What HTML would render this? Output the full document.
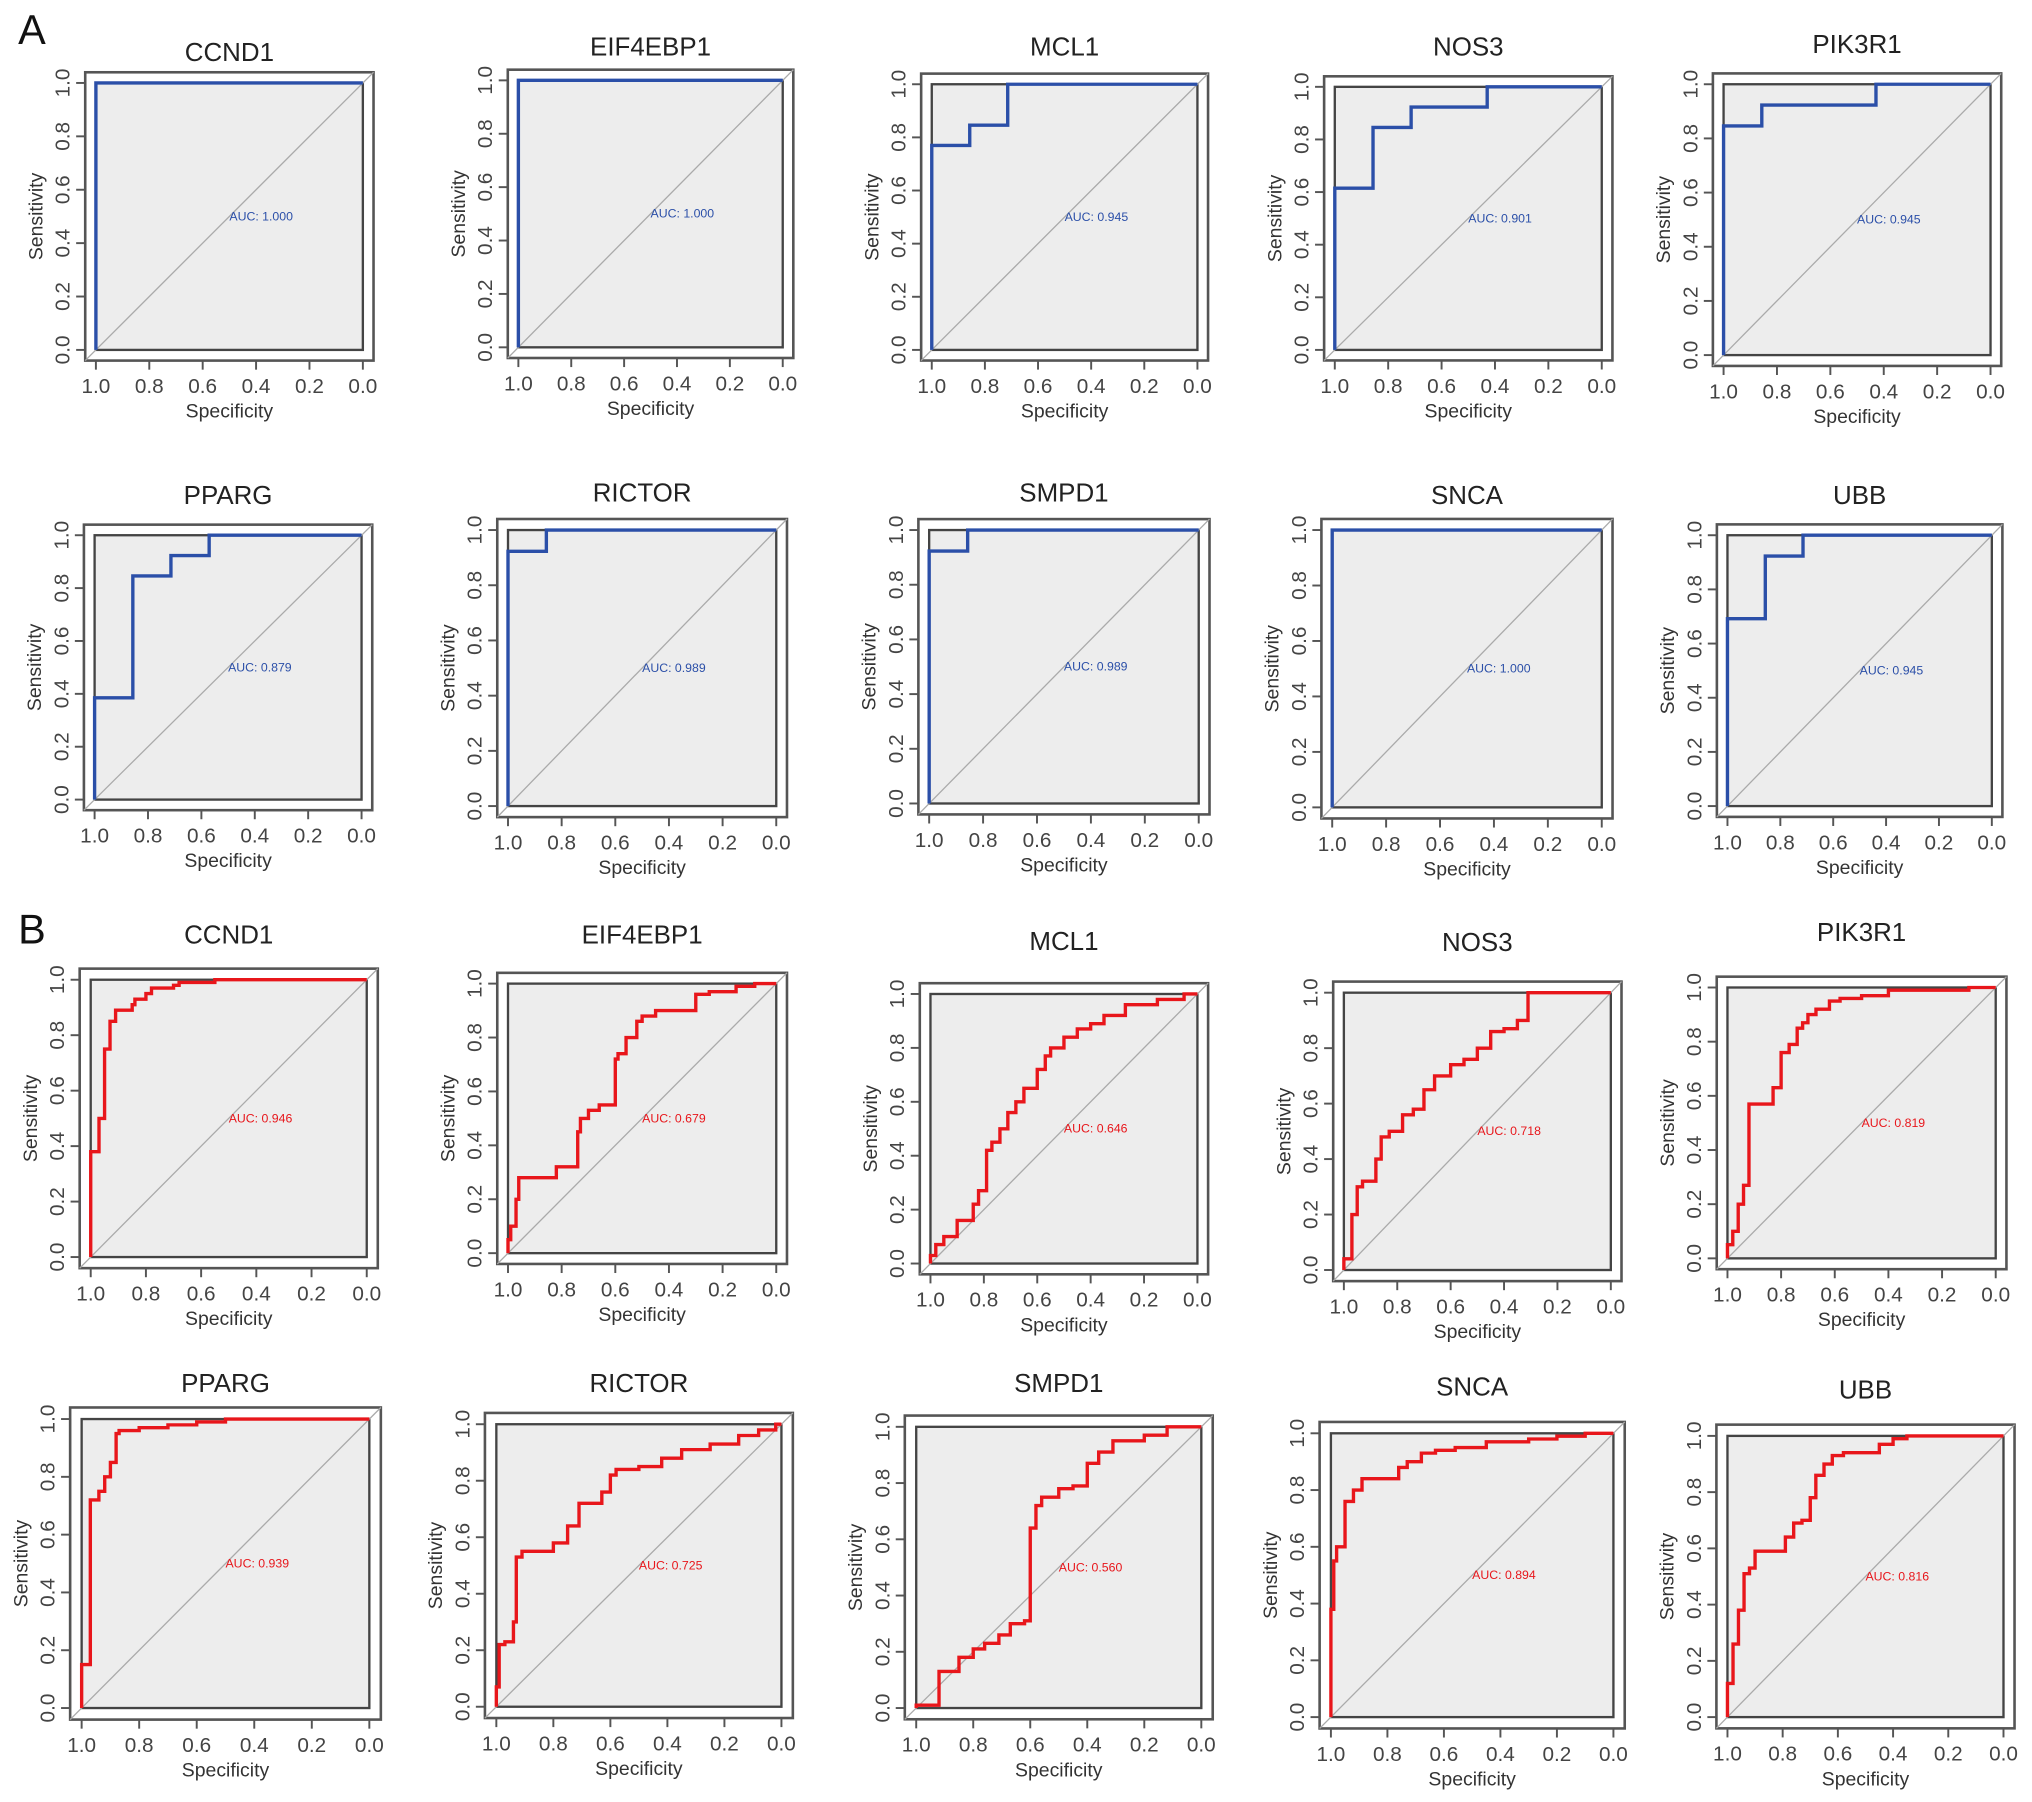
<!DOCTYPE html>
<html><head><meta charset="utf-8"><style>
html,body{margin:0;padding:0;background:#fff;}
svg{display:block;}
text{font-family:"Liberation Sans",Arial,sans-serif;}
</style></head><body>
<svg id="fig" width="2032" height="1802" viewBox="0 0 1568 1390.5" xmlns="http://www.w3.org/2000/svg">
<text x="14" y="34" font-size="32" fill="#111">A</text>
<text x="14" y="728" font-size="32" fill="#111">B</text>
</svg>
<script>
const genes = ["CCND1","EIF4EBP1","MCL1","NOS3","PIK3R1","PPARG","RICTOR","SMPD1","SNCA","UBB"];
const aucA = ["1.000","1.000","0.945","0.901","0.945","0.879","0.989","0.989","1.000","0.945"];
const aucB = ["0.946","0.679","0.646","0.718","0.819","0.939","0.725","0.560","0.894","0.816"];
const tickLabels = ["1.0","0.8","0.6","0.4","0.2","0.0"];
const tickValues = [1.0,0.8,0.6,0.4,0.2,0.0];

// Set A (blue) curves: specificity / sensitivity
const specA_CCND1=[1,1,0], sensA_CCND1=[0,1,1];
const specA_EIF4EBP1=[1,1,0], sensA_EIF4EBP1=[0,1,1];
const specA_MCL1=[1,1,0.857,0.857,0.714,0.714,0], sensA_MCL1=[0,0.77,0.77,0.846,0.846,1,1];
const specA_NOS3=[1,1,0.857,0.857,0.714,0.714,0.429,0.429,0], sensA_NOS3=[0,0.615,0.615,0.846,0.846,0.923,0.923,1,1];
const specA_PIK3R1=[1,1,0.857,0.857,0.429,0.429,0], sensA_PIK3R1=[0,0.846,0.846,0.923,0.923,1,1];
const specA_PPARG=[1,1,0.857,0.857,0.714,0.714,0.571,0.571,0], sensA_PPARG=[0,0.385,0.385,0.846,0.846,0.923,0.923,1,1];
const specA_RICTOR=[1,1,0.857,0.857,0], sensA_RICTOR=[0,0.923,0.923,1,1];
const specA_SMPD1=[1,1,0.857,0.857,0], sensA_SMPD1=[0,0.923,0.923,1,1];
const specA_SNCA=[1,1,0], sensA_SNCA=[0,1,1];
const specA_UBB=[1,1,0.857,0.857,0.714,0.714,0], sensA_UBB=[0,0.692,0.692,0.923,0.923,1,1];

// Set B (red) curves
const specB_CCND1=[1,0.99,0.97,0.97,0.95,0.95,0.93,0.93,0.91,0.9,0.85,0.84,0.8,0.78,0.76,0.7,0.68,0.63,0.55,0.52,0];
const sensB_CCND1=[0,0.38,0.38,0.5,0.5,0.75,0.75,0.85,0.85,0.89,0.89,0.91,0.93,0.95,0.97,0.97,0.98,0.99,0.99,1,1];
const specB_EIF4EBP1=[1,0.99,0.97,0.96,0.93,0.82,0.8,0.74,0.73,0.7,0.66,0.6,0.59,0.56,0.52,0.5,0.45,0.3,0.25,0.15,0.08,0.02,0];
const sensB_EIF4EBP1=[0,0.05,0.1,0.2,0.28,0.28,0.32,0.32,0.45,0.5,0.53,0.55,0.72,0.74,0.8,0.86,0.88,0.9,0.96,0.97,0.99,1,1];
const specB_MCL1=[1,0.98,0.95,0.9,0.88,0.84,0.82,0.79,0.77,0.74,0.71,0.68,0.65,0.6,0.57,0.55,0.5,0.45,0.4,0.35,0.27,0.15,0.05,0];
const sensB_MCL1=[0,0.03,0.07,0.1,0.16,0.16,0.22,0.27,0.42,0.45,0.5,0.56,0.6,0.65,0.72,0.77,0.8,0.84,0.87,0.89,0.92,0.96,0.98,1];
const specB_NOS3=[1,0.97,0.95,0.93,0.88,0.86,0.83,0.78,0.74,0.7,0.66,0.6,0.55,0.5,0.45,0.4,0.35,0.31,0.31,0.25,0];
const sensB_NOS3=[0,0.04,0.2,0.3,0.32,0.4,0.48,0.5,0.56,0.58,0.65,0.7,0.74,0.76,0.8,0.86,0.87,0.9,0.98,1,1];
const specB_PIK3R1=[1,0.98,0.96,0.94,0.92,0.9,0.83,0.8,0.77,0.74,0.72,0.7,0.67,0.62,0.58,0.5,0.4,0.35,0.1,0.05,0];
const sensB_PIK3R1=[0,0.05,0.1,0.2,0.27,0.57,0.57,0.63,0.76,0.79,0.85,0.87,0.9,0.92,0.95,0.96,0.97,0.99,0.99,1,1];
const specB_PPARG=[1,0.99,0.97,0.97,0.94,0.92,0.9,0.88,0.87,0.8,0.7,0.6,0.5,0.4,0];
const sensB_PPARG=[0,0.15,0.15,0.7,0.72,0.75,0.8,0.85,0.95,0.96,0.97,0.98,0.99,1,1];
const specB_RICTOR=[1,0.99,0.97,0.94,0.93,0.91,0.88,0.8,0.75,0.71,0.69,0.63,0.6,0.58,0.5,0.42,0.35,0.25,0.15,0.08,0.02,0];
const sensB_RICTOR=[0,0.07,0.22,0.23,0.3,0.53,0.55,0.55,0.58,0.64,0.72,0.72,0.76,0.82,0.84,0.85,0.88,0.91,0.93,0.96,0.98,1];
const specB_SMPD1=[1,0.92,0.92,0.85,0.8,0.76,0.71,0.67,0.62,0.6,0.6,0.58,0.56,0.5,0.45,0.4,0.36,0.31,0.2,0.12,0.12,0];
const sensB_SMPD1=[0,0.01,0.1,0.13,0.18,0.21,0.23,0.26,0.3,0.31,0.47,0.64,0.72,0.75,0.78,0.79,0.87,0.91,0.95,0.97,1,1];
const specB_SNCA=[1,0.99,0.98,0.95,0.92,0.89,0.86,0.76,0.73,0.68,0.63,0.56,0.45,0.3,0.2,0.1,0];
const sensB_SNCA=[0,0.38,0.55,0.6,0.76,0.8,0.84,0.84,0.88,0.9,0.93,0.94,0.95,0.97,0.98,0.99,1];
const specB_UBB=[1,0.98,0.96,0.94,0.92,0.9,0.87,0.79,0.76,0.73,0.7,0.68,0.65,0.62,0.58,0.45,0.4,0.35,0.3,0];
const sensB_UBB=[0,0.12,0.26,0.38,0.51,0.53,0.59,0.59,0.64,0.69,0.7,0.78,0.86,0.9,0.93,0.94,0.97,0.99,1,1];

const curvesA=[[specA_CCND1,sensA_CCND1],[specA_EIF4EBP1,sensA_EIF4EBP1],[specA_MCL1,sensA_MCL1],[specA_NOS3,sensA_NOS3],[specA_PIK3R1,sensA_PIK3R1],[specA_PPARG,sensA_PPARG],[specA_RICTOR,sensA_RICTOR],[specA_SMPD1,sensA_SMPD1],[specA_SNCA,sensA_SNCA],[specA_UBB,sensA_UBB]];
const curvesB=[[specB_CCND1,sensB_CCND1],[specB_EIF4EBP1,sensB_EIF4EBP1],[specB_MCL1,sensB_MCL1],[specB_NOS3,sensB_NOS3],[specB_PIK3R1,sensB_PIK3R1],[specB_PPARG,sensB_PPARG],[specB_RICTOR,sensB_RICTOR],[specB_SMPD1,sensB_SMPD1],[specB_SNCA,sensB_SNCA],[specB_UBB,sensB_UBB]];

// layout (display units): [x at spec=1, x at spec=0, y at sens=1, y at sens=0, title y]
const layoutA=[[74,280,64,270,47],[400,604,62,268,43],[719,924,65,270,43],[1030,1236,67,270,43],[1330,1536,65,274,41],
[73,279,413,617,389],[392,599,409,622,387],[717,925,409,620,387],[1028,1236,409,623,389],[1333,1537,413,622,389]];
const layoutB=[[70,283,756,970,728],[392,599,759,967,728],[718,924,767,975,733],[1037,1243,766,980,734],[1333,1540,762,971,726],
[63,285,1095,1318,1074],[383,603,1099,1317,1074],[707,927,1101,1318,1074],[1027,1245,1106,1325,1077],[1333,1546,1108,1325,1079]];

const NS="http://www.w3.org/2000/svg";
const svg=document.getElementById("fig");
function mk(tag,attrs,parent){const e=document.createElementNS(NS,tag);for(const k in attrs)e.setAttribute(k,attrs[k]);(parent||svg).appendChild(e);return e;}

function drawPanel(set,i,L,curve,auc,color){
  const [x1,x0,y1,y0,ty]=L;
  const sx=v=>x0+(x1-x0)*v;
  const sy=v=>y0+(y1-y0)*v;
  const g=mk("g",{});
  
  
  const w=x0-x1,h=y0-y1,px=w*0.04,py=h*0.04;
  const ob=mk("rect",{x:x1-px,y:y1-py,width:w+2*px,height:h+2*py,fill:"#fff",stroke:"#555","stroke-width":2},g);
  
  
  const ib=mk("rect",{x:x1,y:y1,width:w,height:h,fill:"#ededed",stroke:"#444","stroke-width":1.8},g);
  
  
  const dg=mk("line",{x1:sx(1.04),y1:sy(-0.04),x2:sx(-0.04),y2:sy(1.04),stroke:"#aaa","stroke-width":1},g);
  
  
  const t=mk("text",{x:(x1+x0)/2,y:ty,"font-size":20,"text-anchor":"middle",fill:"#222"},g);
  t.textContent=genes[i];
  
  
  const by=y0+py, lx=x1-px;
  tickValues.forEach((v,k)=>{
    const xt=mk("line",{x1:sx(v),y1:by,x2:sx(v),y2:by+7,stroke:"#555","stroke-width":1.5},g);
    
    
    const xl=mk("text",{x:sx(v),y:by+25,"font-size":16,"text-anchor":"middle",fill:"#444"},g);
    xl.textContent=tickLabels[k];
    
    
    const yt=mk("line",{x1:lx-7,y1:sy(v),x2:lx,y2:sy(v),stroke:"#555","stroke-width":1.5},g);
    
    
    const yl=mk("text",{x:0,y:0,"font-size":16,"text-anchor":"middle",fill:"#444",transform:`translate(${lx-12},${sy(v)}) rotate(-90)`},g);
    yl.textContent=tickLabels[k];
    
    
  });
  mk("line",{x1:sx(1),y1:by,x2:sx(0),y2:by,stroke:"#555","stroke-width":1.5},g);
  mk("line",{x1:lx,y1:sy(0),x2:lx,y2:sy(1),stroke:"#555","stroke-width":1.5},g);
  const xa=mk("text",{x:(x1+x0)/2,y:by+44,"font-size":15,"text-anchor":"middle",fill:"#333"},g);
  xa.textContent="Specificity";
  
  
  const ya=mk("text",{x:0,y:0,"font-size":15,"text-anchor":"middle",fill:"#333",transform:`translate(${lx-33},${(y1+y0)/2}) rotate(-90)`},g);
  ya.textContent="Sensitivity";
  
  
  const [sp,se]=curve;
  let pts=[sx(sp[0]).toFixed(1)+","+sy(se[0]).toFixed(1)];
  for(let k=1;k<sp.length;k++){
    pts.push(sx(sp[k-1]).toFixed(1)+","+sy(se[k]).toFixed(1));
    pts.push(sx(sp[k]).toFixed(1)+","+sy(se[k]).toFixed(1));
  }
  const pl=mk("polyline",{points:pts.join(" "),fill:"none",stroke:color,"stroke-width":2.6,"stroke-linejoin":"miter"},g);
  
  
  const at=mk("text",{x:sx(0.5),y:sy(0.5)+3,"font-size":9.5,fill:color},g);
  at.textContent="AUC: "+auc;
  
  
}
for(let i=0;i<10;i++){
  drawPanel("a",i,layoutA[i],curvesA[i],aucA[i],"#2b4fa8");
  drawPanel("b",i,layoutB[i],curvesB[i],aucB[i],"#e8161b");
}
</script>
</body></html>
